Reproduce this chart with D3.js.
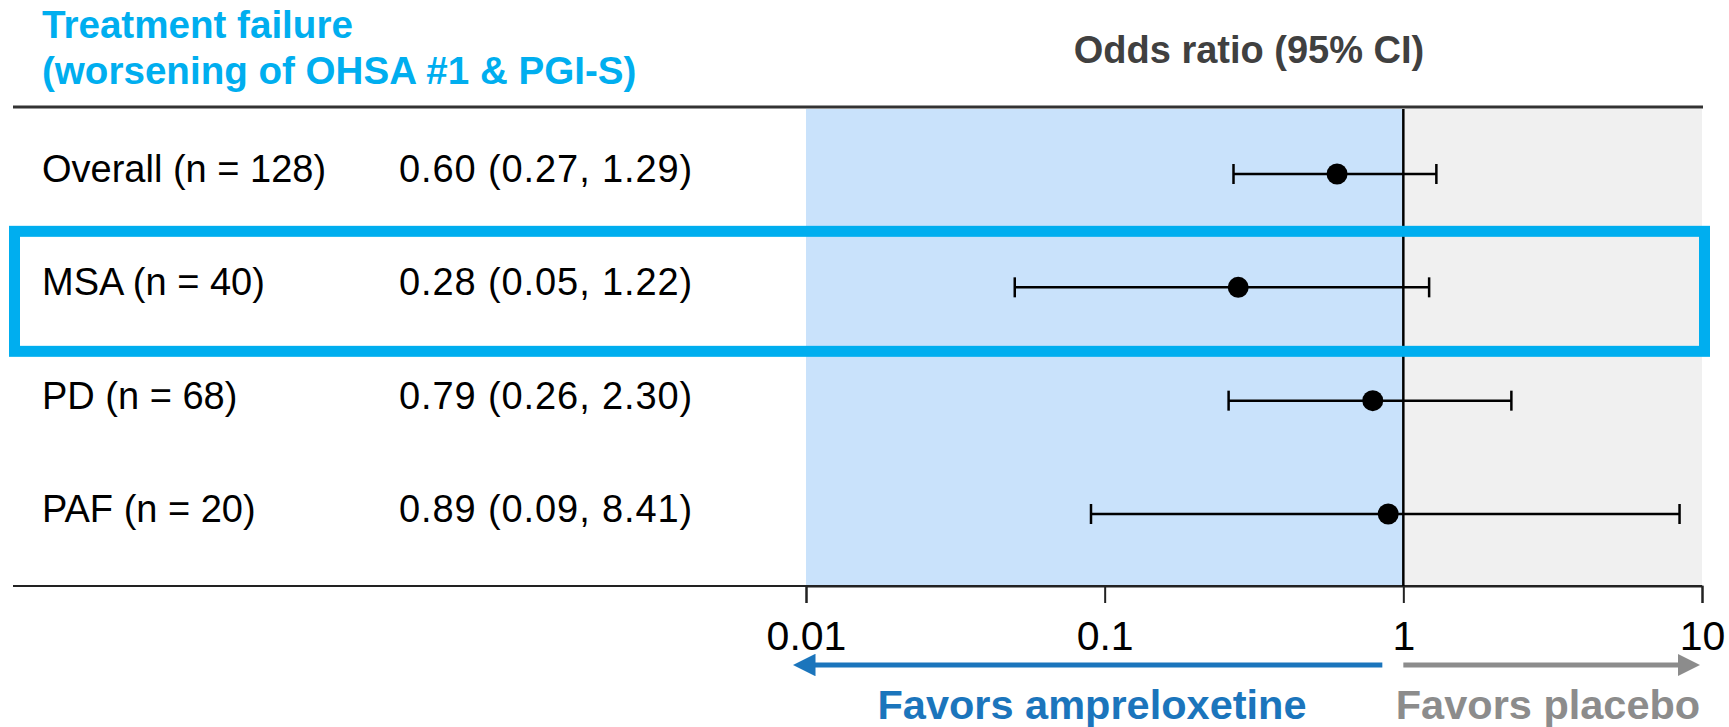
<!DOCTYPE html>
<html>
<head>
<meta charset="utf-8">
<script src="https://cdn.jsdelivr.net/npm/d3@7"></script>
<style>
  html, body { margin: 0; padding: 0; background: #fff; }
  svg { display: block; font-family: Arial, "Liberation Sans", sans-serif; }
</style>
</head>
<body>
<svg id="chart" width="1729" height="727"></svg>
<script>
// forest plot data
var groups = ["Overall (n = 128)", "MSA (n = 40)", "PD (n = 68)", "PAF (n = 20)"];
var estimate = [0.60, 0.28, 0.79, 0.89];
var lower = [0.27, 0.05, 0.26, 0.09];
var upper = [1.29, 1.22, 2.30, 8.41];
var ciLabels = ["0.60 (0.27, 1.29)", "0.28 (0.05, 1.22)", "0.79 (0.26, 2.30)", "0.89 (0.09, 8.41)"];
var tickValues = [0.01, 0.1, 1, 10];
var highlighted = "MSA (n = 40)";

var cyan = "#00aeef", darkBlue = "#1b75bc", grey = "#8c8c8c";

var svg = d3.select("#chart");

var x = d3.scaleLog().domain([0.01, 10]).range([806, 1702]);
var y = d3.scalePoint().domain(groups).range([174, 514]);

var yTop = 107, yBottom = 586;

// shaded halves
svg.append("rect")
    .attr("x", x(0.01)).attr("y", yTop + 2)
    .attr("width", x(1) - x(0.01)).attr("height", yBottom - yTop - 2)
    .attr("fill", "#c9e2fb");
svg.append("rect")
    .attr("x", x(1)).attr("y", yTop + 2)
    .attr("width", x(10) - x(1)).attr("height", yBottom - yTop - 2)
    .attr("fill", "#f0f0f0");

// header
svg.append("text")
    .attr("x", 42).attr("y", 38)
    .attr("font-size", 38.6).attr("font-weight", "bold").attr("fill", cyan)
    .text("Treatment failure");
svg.append("text")
    .attr("x", 42).attr("y", 84)
    .attr("font-size", 38.6).attr("font-weight", "bold").attr("fill", cyan)
    .text("(worsening of OHSA #1 & PGI-S)");
svg.append("text")
    .attr("x", 1249).attr("y", 63)
    .attr("text-anchor", "middle")
    .attr("font-size", 38).attr("font-weight", "bold").attr("fill", "#404040")
    .text("Odds ratio (95% CI)");

// top rule
svg.append("line")
    .attr("x1", 13).attr("x2", 1703)
    .attr("y1", yTop).attr("y2", yTop)
    .attr("stroke", "#333").attr("stroke-width", 3);

// bottom rule across the table
svg.append("line")
    .attr("x1", 13).attr("x2", x(10))
    .attr("y1", yBottom).attr("y2", yBottom)
    .attr("stroke", "#222").attr("stroke-width", 2);

// x axis
var axis = svg.append("g")
    .attr("transform", "translate(0," + yBottom + ")")
    .call(d3.axisBottom(x).tickValues(tickValues).tickFormat(d3.format("~g"))
        .tickSize(17).tickPadding(18));
axis.select(".domain").attr("stroke", "#222").attr("stroke-width", 2);
axis.selectAll(".tick line").attr("stroke", "#222").attr("stroke-width", 2);
axis.selectAll(".tick text")
    .attr("font-size", 41).attr("fill", "#000")
    .attr("font-family", "Arial, 'Liberation Sans', sans-serif");

// line of no effect
svg.append("line")
    .attr("x1", x(1)).attr("x2", x(1))
    .attr("y1", yTop + 2).attr("y2", yBottom)
    .attr("stroke", "#000").attr("stroke-width", 2.5);

// rows
var rows = svg.selectAll("g.row")
    .data(groups)
    .enter().append("g")
    .attr("class", "row")
    .attr("transform", function (d) { return "translate(0," + y(d) + ")"; });

rows.append("text")
    .attr("x", 42).attr("y", 8)
    .attr("font-size", 38).attr("fill", "#000")
    .text(function (d) { return d; });

rows.append("text")
    .attr("x", 399).attr("y", 8)
    .attr("font-size", 38).attr("fill", "#000")
    .attr("letter-spacing", 0.9)
    .text(function (d, i) { return ciLabels[i]; });

rows.append("line")
    .attr("x1", function (d, i) { return x(lower[i]); })
    .attr("x2", function (d, i) { return x(upper[i]); })
    .attr("stroke", "#000").attr("stroke-width", 2.5);

rows.append("line")
    .attr("x1", function (d, i) { return x(lower[i]); })
    .attr("x2", function (d, i) { return x(lower[i]); })
    .attr("y1", -10).attr("y2", 10)
    .attr("stroke", "#000").attr("stroke-width", 2.5);

rows.append("line")
    .attr("x1", function (d, i) { return x(upper[i]); })
    .attr("x2", function (d, i) { return x(upper[i]); })
    .attr("y1", -10).attr("y2", 10)
    .attr("stroke", "#000").attr("stroke-width", 2.5);

rows.append("circle")
    .attr("cx", function (d, i) { return x(estimate[i]); })
    .attr("r", 10.5)
    .attr("fill", "#000");

// highlight box
var hy = y(highlighted);
svg.append("rect")
    .attr("x", 14.5).attr("y", hy - 56)
    .attr("width", 1704.5 - 14.5).attr("height", 120)
    .attr("fill", "none")
    .attr("stroke", cyan).attr("stroke-width", 11);

// direction arrows
var arrowY = 665;
var defs = svg.append("defs");
[["headBlue", darkBlue], ["headGrey", grey]].forEach(function (m) {
    defs.append("marker")
        .attr("id", m[0])
        .attr("viewBox", "0 0 10 10")
        .attr("refX", 2).attr("refY", 5)
        .attr("markerWidth", 4.5).attr("markerHeight", 4.5)
        .attr("orient", "auto")
        .append("path")
        .attr("d", "M0,0L10,5L0,10Z")
        .attr("fill", m[1]);
});

svg.append("line")
    .attr("x1", x(1) - 21).attr("x2", x(0.01) + 5)
    .attr("y1", arrowY).attr("y2", arrowY)
    .attr("stroke", darkBlue).attr("stroke-width", 5)
    .attr("marker-end", "url(#headBlue)");

svg.append("line")
    .attr("x1", x(1)).attr("x2", x(10) - 20)
    .attr("y1", arrowY).attr("y2", arrowY)
    .attr("stroke", grey).attr("stroke-width", 5)
    .attr("marker-end", "url(#headGrey)");

svg.append("text")
    .attr("x", 1092).attr("y", 719)
    .attr("text-anchor", "middle")
    .attr("font-size", 41.5).attr("font-weight", "bold").attr("fill", darkBlue)
    .text("Favors ampreloxetine");

svg.append("text")
    .attr("x", 1548).attr("y", 719)
    .attr("text-anchor", "middle")
    .attr("font-size", 41.5).attr("font-weight", "bold").attr("fill", grey)
    .text("Favors placebo");
</script>
</body>
</html>
